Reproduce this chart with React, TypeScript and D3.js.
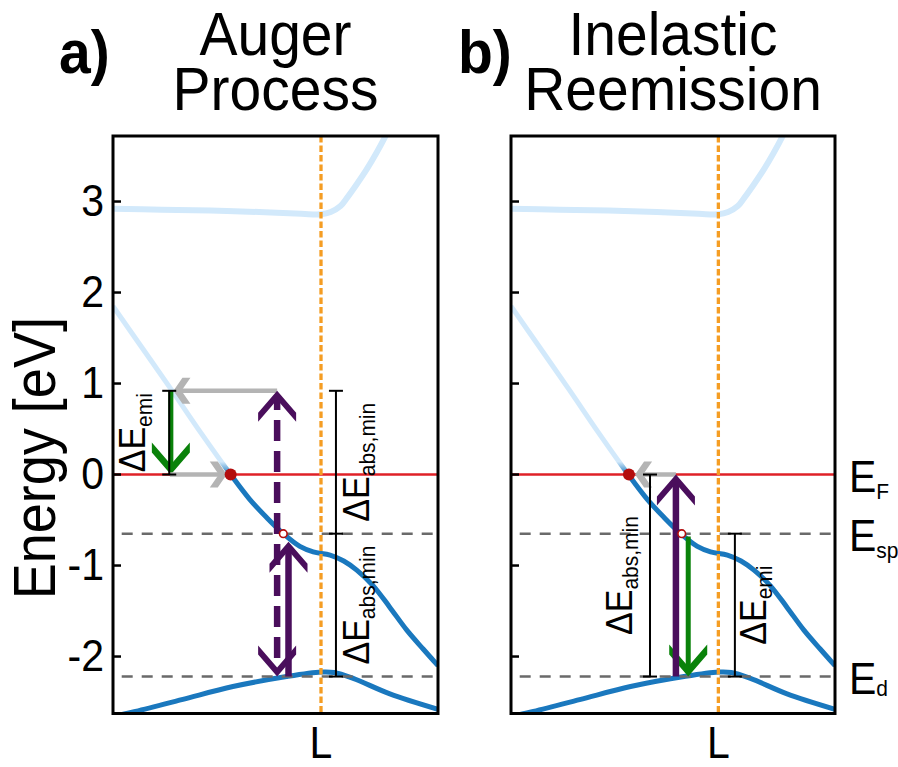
import React from 'react';
import * as d3 from 'd3';

const WIDTH = 898;
const HEIGHT = 767;
const FONT = "'Liberation Sans', Arial, Helvetica, sans-serif";

// Energy levels (eV)
const E_F = 0;
const E_SP = -0.65;
const E_D = -2.22;
const E_HOT = 0.92;
const K_L = 0.64;

const yTicks = [3, 2, 1, 0, -1, -2];
const yTickLabels = ['3', '2', '1', '0', '-1', '-2'];
const yDomain = [-2.626, 3.72];

// Band structure along the path towards L (k in arbitrary units, E in eV)
const bandUpper: [number, number][] = [
  [0, 2.92], [0.15, 2.91], [0.3, 2.9], [0.45, 2.885], [0.58, 2.865], [0.64, 2.86],
  [0.67, 2.885], [0.7, 2.95], [0.72, 3.04], [0.75, 3.19], [0.78, 3.35], [0.81, 3.53],
  [0.84, 3.73], [0.87, 3.95],
];
const bandSp: [number, number][] = [
  [0, 1.85], [0.09, 1.39], [0.18, 0.93], [0.27, 0.46], [0.362, 0], [0.42, -0.27],
  [0.472, -0.47], [0.524, -0.65], [0.575, -0.79], [0.616, -0.85], [0.668, -0.885],
  [0.71, -0.95], [0.75, -1.05], [0.8, -1.22], [0.852, -1.46], [0.904, -1.71],
  [0.955, -1.92], [1.0, -2.1],
];
const bandD: [number, number][] = [
  [0, -2.66], [0.062, -2.61], [0.215, -2.47], [0.369, -2.33], [0.534, -2.22],
  [0.64, -2.17], [0.68, -2.175], [0.739, -2.24], [0.852, -2.41], [1.0, -2.58],
];

// Panel a: Auger process
const augerGray = [
  { k1: 0.505, k2: 0.186, e: E_HOT },
  { k1: 0.175, k2: 0.35, e: E_F },
];
const augerPurple = [
  { k: 0.505, from: E_D, to: E_HOT, dashed: true, both: true },
  { k: 0.54, from: E_D, to: -0.74, dashed: false, both: false },
];
const augerGreen = [{ k: 0.178, from: E_HOT, to: E_F }];
const augerBars = [
  { k: 0.173, levels: [E_HOT, E_F] },
  { k: 0.686, levels: [E_HOT, E_SP, E_D] },
];
const augerLabels = [
  { k: 0.173, e: (E_HOT + E_F) / 2, dx: -24, sub: 'emi' },
  { k: 0.686, e: (E_HOT + E_SP) / 2, dx: 33, sub: 'abs,min' },
  { k: 0.686, e: (E_SP + E_D) / 2, dx: 33, sub: 'abs,min' },
];

// Panel b: inelastic reemission
const reemGray = [{ k1: 0.509, k2: 0.383, e: E_F }];
const reemPurple = [{ k: 0.509, from: E_D, to: E_F, dashed: false, both: false }];
const reemGreen = [{ k: 0.547, from: E_SP - 0.03, to: E_D }];
const reemBars = [
  { k: 0.429, levels: [E_F, E_D] },
  { k: 0.691, levels: [E_SP, E_D] },
];
const reemLabels = [
  { k: 0.429, e: (E_F + E_D) / 2, dx: -18, sub: 'abs,min' },
  { k: 0.691, e: (E_SP + E_D) / 2, dx: 31, sub: 'emi' },
];

const levelLabels = [
  { e: E_F, sub: 'F', sdy: 7 },
  { e: E_SP, sub: 'sp', sdy: 7 },
  { e: E_D, sub: 'd', sdy: 2 },
];

const COLORS = {
  purple: '#4a0e5c',
  green: '#0a820a',
  gray: '#b4b4b4',
  red: '#df2127',
  dot: '#b30d0d',
  orange: '#f59d23',
  dark: '#1a78be',
  light: '#d2e9fb',
  dash: '#6a6a6a',
};

// Glyphs in this figure are slightly taller than they are wide
const STRETCH = 1.08;

const y = d3.scaleLinear().domain(yDomain).range([713.5, 136]);

function chevron(tx: number, ty: number, dx: number, dy: number, L: number, T: number, W: number) {
  const px = -dy;
  const py = dx;
  const pts: [number, number][] = [
    [tx, ty],
    [tx - L * dx + W * px, ty - L * dy + W * py],
    [tx - (L + T) * dx + W * px, ty - (L + T) * dy + W * py],
    [tx - T * dx, ty - T * dy],
    [tx - (L + T) * dx - W * px, ty - (L + T) * dy - W * py],
    [tx - L * dx - W * px, ty - L * dy - W * py],
  ];
  return pts.map((p) => p.join(',')).join(' ');
}

type ArrowProps = {
  x1: number; y1: number; x2: number; y2: number;
  color: string; width: number; L: number; T: number; W: number;
  dashed?: boolean; both?: boolean;
};

function Arrow({ x1, y1, x2, y2, color, width, L, T, W, dashed, both }: ArrowProps) {
  const len = Math.hypot(x2 - x1, y2 - y1);
  const dx = (x2 - x1) / len;
  const dy = (y2 - y1) / len;
  const inset = T / 2;
  const sx = both ? x1 + dx * inset : x1;
  const sy = both ? y1 + dy * inset : y1;
  const ex = x2 - dx * inset;
  const ey = y2 - dy * inset;
  return (
    <g>
      <line x1={sx} y1={sy} x2={ex} y2={ey} stroke={color} strokeWidth={width}
        strokeDasharray={dashed ? '21,10' : undefined} strokeDashoffset={dashed ? -14 : undefined} />
      <polygon points={chevron(x2, y2, dx, dy, L, T, W)} fill={color} />
      {both && <polygon points={chevron(x1, y1, -dx, -dy, L, T, W)} fill={color} />}
    </g>
  );
}

type TxtProps = {
  x: number; y: number; size: number; anchor?: string; weight?: string;
  rotate?: number; children: React.ReactNode;
};

function Txt({ x, y: ty, size, anchor = 'start', weight = 'normal', rotate = 0, children }: TxtProps) {
  return (
    <g transform={`translate(${x},${ty}) rotate(${rotate}) scale(1,${STRETCH})`}>
      <text x={0} y={0} fontSize={size} fontWeight={weight} textAnchor={anchor} fontFamily={FONT}>
        {children}
      </text>
    </g>
  );
}

type PanelProps = {
  id: string;
  range: [number, number];
  letter: string;
  title: [string, string];
  tickLabels: boolean;
  gray: { k1: number; k2: number; e: number }[];
  purple: { k: number; from: number; to: number; dashed: boolean; both: boolean }[];
  green: { k: number; from: number; to: number }[];
  bars: { k: number; levels: number[] }[];
  labels: { k: number; e: number; dx: number; sub: string }[];
  dotK: number;
  circleK: number;
  letterX: number;
};

function Panel(p: PanelProps) {
  const x = d3.scaleLinear().domain([0, 1]).range(p.range);
  const [x0, x1] = p.range;
  const [yb, yt] = y.range();
  const line = d3.line<[number, number]>()
    .x((d) => x(d[0]))
    .y((d) => y(d[1]))
    .curve(d3.curveCatmullRom.alpha(0.5));
  const cx = (x0 + x1) / 2;
  const clipId = `clip-${p.id}`;
  const gradId = `grad-${p.id}`;

  return (
    <g>
      <defs>
        <clipPath id={clipId}>
          <rect x={x0} y={yt} width={x1 - x0} height={yb - yt} />
        </clipPath>
        <linearGradient id={gradId} gradientUnits="userSpaceOnUse" x1={0} y1={y(0.14)} x2={0} y2={y(0.0)}>
          <stop offset="0" stopColor={COLORS.light} />
          <stop offset="1" stopColor={COLORS.dark} />
        </linearGradient>
      </defs>

      {/* Titles */}
      <Txt x={p.letterX} y={73} size={57} weight="bold">{p.letter}</Txt>
      <Txt x={cx} y={55} size={57} anchor="middle">{p.title[0]}</Txt>
      <Txt x={cx} y={110} size={57} anchor="middle">{p.title[1]}</Txt>

      <g clipPath={`url(#${clipId})`}>
        {/* bands */}
        <path d={line(bandUpper) || ''} fill="none" stroke={COLORS.light} strokeWidth={6} />
        <path d={line(bandSp) || ''} fill="none" stroke={`url(#${gradId})`} strokeWidth={5} />
        <path d={line(bandD) || ''} fill="none" stroke={COLORS.dark} strokeWidth={5} />

        {/* Fermi level */}
        <line x1={x0} x2={x1} y1={y(E_F)} y2={y(E_F)} stroke={COLORS.red} strokeWidth={2.5} />
        {/* band edge levels */}
        {[E_SP, E_D].map((e) => (
          <line key={e} x1={x0} x2={x1} y1={y(e)} y2={y(e)} stroke={COLORS.dash} strokeWidth={2.5}
            strokeDasharray="11,9" strokeDashoffset={11.3} />
        ))}
        {/* L point */}
        <line x1={x(K_L)} x2={x(K_L)} y1={yt} y2={yb} stroke={COLORS.orange} strokeWidth={3.3}
          strokeDasharray="6.5,3" />
      </g>

      {/* transitions */}
      {p.green.map((a, i) => (
        <Arrow key={`g${i}`} x1={x(a.k)} y1={y(a.from)} x2={x(a.k)} y2={y(a.to)}
          color={COLORS.green} width={5} L={22} T={10} W={19} />
      ))}
      {p.gray.map((a, i) => (
        <Arrow key={`h${i}`} x1={x(a.k1)} y1={y(a.e)} x2={x(a.k2)} y2={y(a.e)}
          color={COLORS.gray} width={4.5} L={9} T={8} W={13} />
      ))}
      {p.purple.map((a, i) => (
        <Arrow key={`p${i}`} x1={x(a.k)} y1={y(a.from)} x2={x(a.k)} y2={y(a.to)}
          color={COLORS.purple} width={6.5} L={22} T={9} W={19} dashed={a.dashed} both={a.both} />
      ))}

      {/* energy difference bars */}
      {p.bars.map((b, i) => {
        const bx = x(b.k);
        const ys = b.levels.map((e) => y(e));
        return (
          <g key={`b${i}`} stroke="#000" strokeWidth={2}>
            <line x1={bx} x2={bx} y1={d3.min(ys)} y2={d3.max(ys)} />
            {ys.map((yy, j) => (
              <line key={j} x1={bx - 7} x2={bx + 7} y1={yy} y2={yy} />
            ))}
          </g>
        );
      })}
      {p.labels.map((l, i) => (
        <Txt key={`l${i}`} x={x(l.k) + l.dx} y={y(l.e)} rotate={-90} size={34} anchor="middle">
          ΔE<tspan fontSize={21} dy={6}>{l.sub}</tspan>
        </Txt>
      ))}

      {/* electron / hole markers */}
      <circle cx={x(p.dotK)} cy={y(E_F)} r={6} fill={COLORS.dot} />
      <circle cx={x(p.circleK)} cy={y(E_SP)} r={3.8} fill="#fff" stroke={COLORS.dot} strokeWidth={1.6} />

      {/* frame and ticks */}
      <rect x={x0} y={yt} width={x1 - x0} height={yb - yt} fill="none" stroke="#000" strokeWidth={3} />
      {yTicks.map((t) => (
        <line key={t} x1={x0} x2={x0 + 8} y1={y(t)} y2={y(t)} stroke="#000" strokeWidth={2.5} />
      ))}
      {p.tickLabels && yTicks.map((t, i) => (
        <Txt key={`t${t}`} x={x0 - 9} y={y(t) + 14} size={41} anchor="end">
          {yTickLabels[i]}
        </Txt>
      ))}
      <Txt x={x(K_L)} y={758} size={41} anchor="middle">L</Txt>
    </g>
  );
}

export default function App() {
  return (
    <svg width={WIDTH} height={HEIGHT} style={{ position: 'absolute', left: 0, top: 0, background: '#fff' }}>
      <rect width={WIDTH} height={HEIGHT} fill="#fff" />
      <Panel id="a" range={[113, 438]} letter="a)" letterX={59} title={['Auger', 'Process']} tickLabels
        gray={augerGray} purple={augerPurple} green={augerGreen} bars={augerBars} labels={augerLabels}
        dotK={0.362} circleK={0.524} />
      <Panel id="b" range={[511, 835]} letter="b)" letterX={458} title={['Inelastic', 'Reemission']} tickLabels={false}
        gray={reemGray} purple={reemPurple} green={reemGreen} bars={reemBars} labels={reemLabels}
        dotK={0.364} circleK={0.527} />
      <Txt x={55} y={y(0.18)} rotate={-90} size={54} anchor="middle">Energy [eV]</Txt>
      {levelLabels.map((l) => (
        <Txt key={l.sub} x={849} y={y(l.e) + 17} size={41}>
          E<tspan fontSize={21} dy={l.sdy}>{l.sub}</tspan>
        </Txt>
      ))}
    </svg>
  );
}
